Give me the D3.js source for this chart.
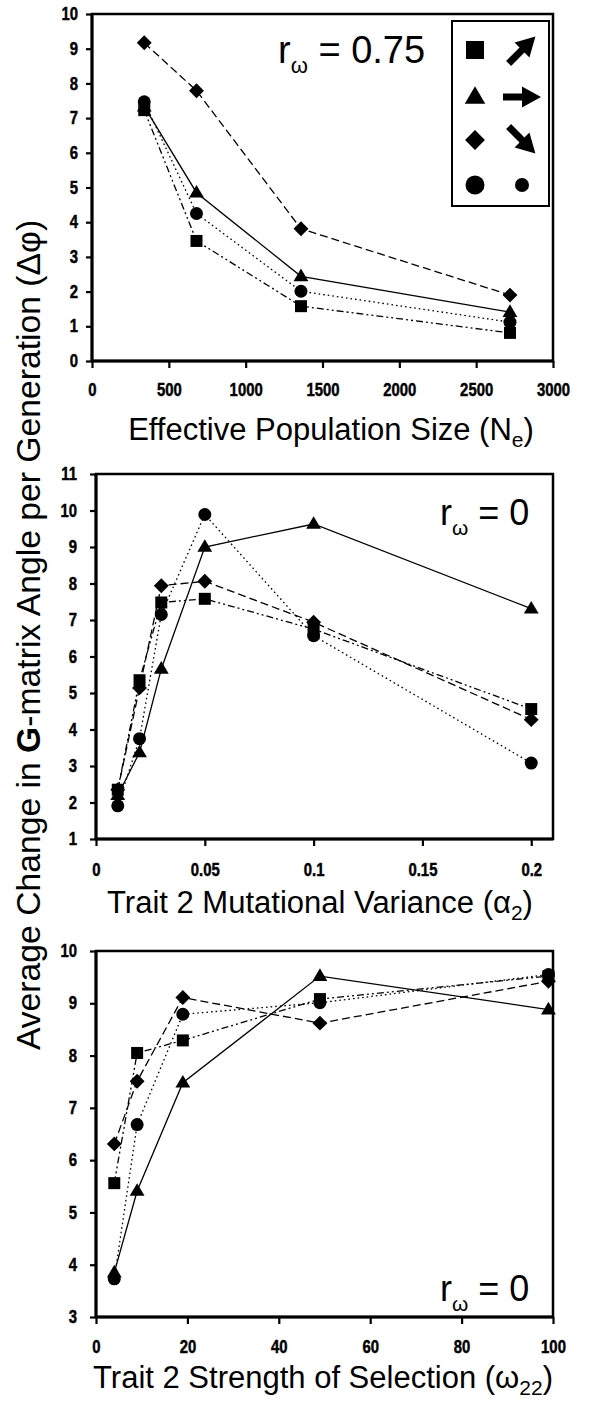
<!DOCTYPE html>
<html><head><meta charset="utf-8">
<script src="https://cdn.jsdelivr.net/npm/d3@7"></script>
<style>
html,body{margin:0;padding:0;background:#fff;}
svg{display:block;}
text{font-family:"Liberation Sans",Arial,sans-serif;fill:#000;}
</style></head>
<body>
<svg id="chart" width="604" height="1403"></svg>
<script>
// ---- Data ----
const seriesNames = ["square", "triangle", "diamond", "circle"];

const p1X = [340, 680, 1360, 2720];
const p1Square = [7.23, 3.46, 1.58, 0.81];
const p1Triangle = [7.33, 4.85, 2.44, 1.41];
const p1Diamond = [9.17, 7.79, 3.81, 1.90];
const p1Circle = [7.47, 4.25, 2.01, 1.12];
const p1XTicks = [0, 500, 1000, 1500, 2000, 2500, 3000];
const p1YTicks = [0, 1, 2, 3, 4, 5, 6, 7, 8, 9, 10];

const p2X = [0.01, 0.02, 0.03, 0.05, 0.1, 0.2];
const p2Square = [2.35, 5.35, 7.48, 7.58, 6.75, 4.56];
const p2Triangle = [2.2, 3.37, 5.66, 9.0, 9.63, 7.31];
const p2Diamond = [2.35, 5.14, 7.94, 8.06, 6.94, 4.27];
const p2Circle = [1.91, 3.75, 7.15, 9.89, 6.57, 3.08];
const p2XTicks = [0, 0.05, 0.1, 0.15, 0.2];
const p2YTicks = [1, 2, 3, 4, 5, 6, 7, 8, 9, 10, 11];

const p3X = [4, 9, 19, 49, 99];
const p3Square = [5.56, 8.05, 8.29, 9.08, 9.52];
const p3Triangle = [3.85, 5.41, 7.48, 9.52, 8.88];
const p3Diamond = [6.31, 7.51, 9.11, 8.62, 9.42];
const p3Circle = [3.73, 6.68, 8.79, 9.01, 9.55];
const p3XTicks = [0, 20, 40, 60, 80, 100];
const p3YTicks = [3, 4, 5, 6, 7, 8, 9, 10];

// ---- Styles ----
const dashes = {square: "7,3,2,3,2,3", triangle: null, diamond: "8,4", circle: "1.6,3"};
const svg = d3.select("#chart");
const SX = 0.85; // horizontal squeeze of tick labels

function markerPath(type, s) {
  const h = s / 2;
  if (type === "square") return `M${-h},${-h}H${h}V${h}H${-h}Z`;
  if (type === "triangle") { const r = s * 0.6; return `M0,${-r}L${s*0.57},${r*0.62}L${-s*0.57},${r*0.62}Z`; }
  if (type === "diamond") { const r = s * 0.62; return `M0,${-r}L${r},0L0,${r}L${-r},0Z`; }
  return d3.symbol().type(d3.symbolCircle).size(Math.PI * h * h)();
}
const markerSize = {square: 12, triangle: 13, diamond: 12, circle: 13};

function panel(cfg) {
  const g = svg.append("g");
  const x = d3.scaleLinear().domain(cfg.xDomain).range(cfg.xRange);
  const y = d3.scaleLinear().domain(cfg.yDomain).range(cfg.yRange);

  g.append("rect").attr("x", cfg.xRange[0]).attr("y", cfg.yRange[1])
    .attr("width", cfg.xRange[1] - cfg.xRange[0]).attr("height", cfg.yRange[0] - cfg.yRange[1])
    .attr("fill", "none").attr("stroke", "#000").attr("stroke-width", 2.5);

  const fmt = d => String(d);
  const xAxis = g.append("g").attr("transform", `translate(0,${cfg.yRange[0]})`)
    .call(d3.axisBottom(x).tickValues(cfg.xTicks).tickSize(7).tickPadding(cfg.xPad).tickFormat(fmt));
  const yAxis = g.append("g").attr("transform", `translate(${cfg.xRange[0]},0)`)
    .call(d3.axisLeft(y).tickValues(cfg.yTicks).tickSize(6).tickPadding(cfg.yPad).tickFormat(fmt));
  [xAxis, yAxis].forEach(a => {
    a.attr("font-size", null).attr("font-family", null);
    a.select(".domain").attr("stroke-width", 3).attr("stroke", "#000");
    a.selectAll(".tick line").attr("stroke-width", 2.2).attr("stroke", "#000");
    a.selectAll(".tick text").style("font-size", "17.5px").style("font-weight", "bold")
      .attr("fill", "#000").attr("stroke", "#000").attr("stroke-width", 0.45)
      .attr("transform", `scale(${SX},1)`);
  });
  yAxis.selectAll(".tick text").attr("x", function() { return +d3.select(this).attr("x") / SX; });
  xAxis.select(".domain").attr("d", `M${cfg.xRange[0]},0H${cfg.xRange[1]}`);
  yAxis.select(".domain").attr("d", `M0,${cfg.yRange[0]}V${cfg.yRange[1]}`);

  const line = d3.line().x(d => x(d[0])).y(d => y(d[1]));
  cfg.series.forEach(s => {
    const pts = cfg.xs.map((v, i) => [v, s.values[i]]);
    g.append("path").attr("d", line(pts)).attr("fill", "none").attr("stroke", "#000")
      .attr("stroke-width", 1.3).attr("stroke-dasharray", dashes[s.name]);
  });
  cfg.series.forEach(s => {
    g.selectAll(null).data(cfg.xs.map((v, i) => [v, s.values[i]])).enter().append("path")
      .attr("d", markerPath(s.name, markerSize[s.name]))
      .attr("transform", d => `translate(${x(d[0])},${y(d[1])})`).attr("fill", "#000");
  });

  const t = g.append("text").attr("x", cfg.rLabel.x).attr("y", cfg.rLabel.y).attr("font-size", cfg.rLabel.size);
  t.append("tspan").text("r");
  t.append("tspan").attr("dy", cfg.rLabel.size * 0.27).attr("font-size", cfg.rLabel.size * 0.58).text("ω");
  t.append("tspan").attr("dy", -cfg.rLabel.size * 0.27).text(" = " + cfg.rLabel.value);

  const xt = g.append("text").attr("x", cfg.title.x).attr("y", cfg.title.y).attr("font-size", 31)
    .attr("text-anchor", "middle");
  xt.append("tspan").text(cfg.title.main);
  xt.append("tspan").attr("dy", 7).attr("font-size", 21).text(cfg.title.sub);
  xt.append("tspan").attr("dy", -7).text(")");
  return {x, y};
}

panel({
  xDomain: [0, 3000], xRange: [92, 553], yDomain: [0, 10], yRange: [361, 14],
  xTicks: p1XTicks, yTicks: p1YTicks, xPad: 16, yPad: 8, xs: p1X,
  series: [{name: "square", values: p1Square}, {name: "triangle", values: p1Triangle},
           {name: "diamond", values: p1Diamond}, {name: "circle", values: p1Circle}],
  rLabel: {x: 278, y: 63, size: 38, value: "0.75"},
  title: {x: 331, y: 440, main: "Effective Population Size (N", sub: "e"}
});
panel({
  xDomain: [0, 0.21], xRange: [96, 553], yDomain: [1, 11], yRange: [839, 474],
  xTicks: p2XTicks, yTicks: p2YTicks, xPad: 18, yPad: 13, xs: p2X,
  series: [{name: "square", values: p2Square}, {name: "triangle", values: p2Triangle},
           {name: "diamond", values: p2Diamond}, {name: "circle", values: p2Circle}],
  rLabel: {x: 440, y: 525, size: 36, value: "0"},
  title: {x: 320, y: 913, main: "Trait 2 Mutational Variance (α", sub: "2"}
});
panel({
  xDomain: [0, 100], xRange: [96, 553], yDomain: [3, 10], yRange: [1317, 951],
  xTicks: p3XTicks, yTicks: p3YTicks, xPad: 17, yPad: 13, xs: p3X,
  series: [{name: "square", values: p3Square}, {name: "triangle", values: p3Triangle},
           {name: "diamond", values: p3Diamond}, {name: "circle", values: p3Circle}],
  rLabel: {x: 440, y: 1301, size: 36, value: "0"},
  title: {x: 323, y: 1388, main: "Trait 2 Strength of Selection (ω", sub: "22"}
});

const yt = svg.append("text").attr("transform", "translate(40,635) rotate(-90)")
  .attr("text-anchor", "middle").attr("font-size", 33.7);
yt.append("tspan").text("Average Change in ");
yt.append("tspan").attr("font-weight", "bold").text("G");
yt.append("tspan").text("-matrix Angle per Generation (Δφ)");

const lg = svg.append("g");
lg.append("rect").attr("x", 452).attr("y", 21).attr("width", 97).attr("height", 185)
  .attr("fill", "#fff").attr("stroke", "#000").attr("stroke-width", 2);
const legendRows = [
  {name: "square", cy: 50, arrow: -45},
  {name: "triangle", cy: 97, arrow: 0},
  {name: "diamond", cy: 140, arrow: 45},
  {name: "circle", cy: 185, arrow: null}
];
const legendSize = {square: 18, triangle: 18, diamond: 16, circle: 19};
legendRows.forEach(r => {
  lg.append("path").attr("d", markerPath(r.name, legendSize[r.name]))
    .attr("transform", `translate(475,${r.cy})`).attr("fill", "#000");
  if (r.arrow === null) {
    lg.append("circle").attr("cx", 522).attr("cy", r.cy).attr("r", 7).attr("fill", "#000");
  } else {
    const ap = "M-19,-3.5L0,-3.5L0,-10.5L19,0L0,10.5L0,3.5L-19,3.5Z";
    lg.append("path").attr("d", ap).attr("fill", "#000")
      .attr("transform", `translate(522,${r.cy}) rotate(${r.arrow})`);
  }
});
</script>
</body></html>
